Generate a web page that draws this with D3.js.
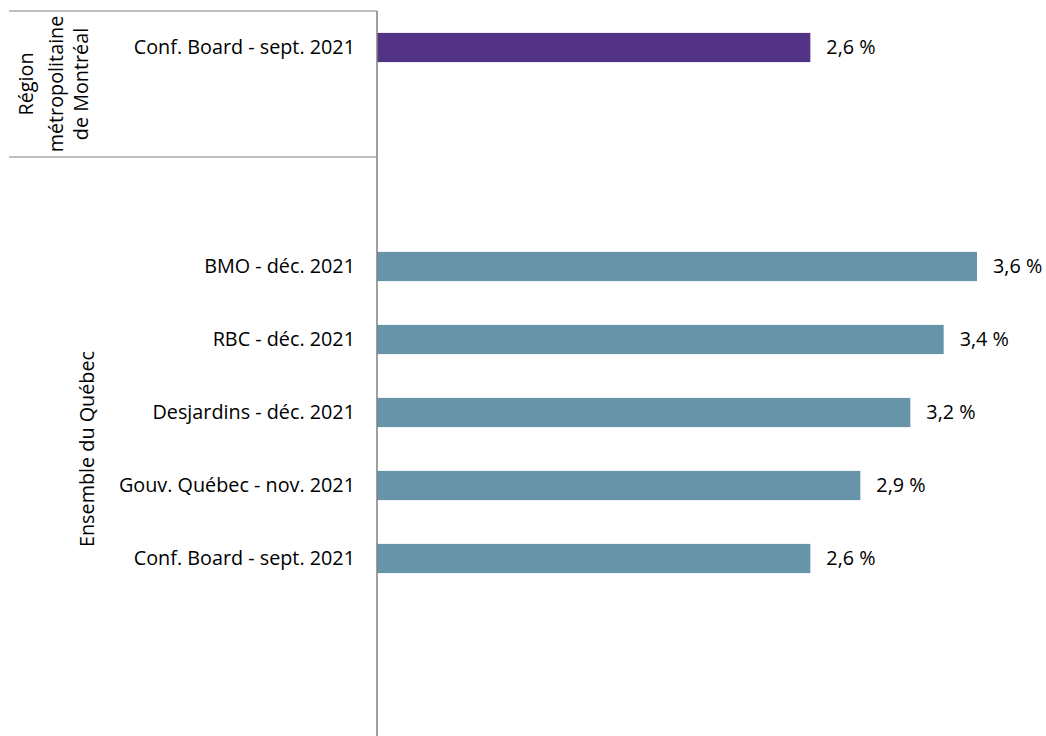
<!DOCTYPE html>
<html>
<head>
<meta charset="utf-8">
<script src="https://cdn.jsdelivr.net/npm/d3@7"></script>
<style>
  body { margin: 0; background: #fff; }
  text { font-family: "Open Sans", sans-serif; fill: #000; }
</style>
</head>
<body>
<script>
// data
const groupNames = [["Région", "métropolitaine", "de Montréal"], ["Ensemble du Québec"]];
const labels = ["Conf. Board - sept. 2021", "BMO - déc. 2021", "RBC - déc. 2021",
                "Desjardins - déc. 2021", "Gouv. Québec - nov. 2021", "Conf. Board - sept. 2021"];
const values = [2.6, 3.6, 3.4, 3.2, 2.9, 2.6];
const groupOf = [0, 1, 1, 1, 1, 1];
const colors = ["#523386", "#6794a8"];

// layout: 10 category slots, first group owns slots 0-1, second 2-9
const NUM_SLOTS = 10;
const slotOf = [0, 3, 4, 5, 6, 7];
const groupSlots = [[0, 2], [2, 10]];

const W = 1046, H = 736;
const axisX = 377, plotTop = 11, plotBottom = 741;
const FONT = '19.8px';

const svg = d3.select('body').append('svg')
    .attr('width', W)
    .attr('height', H);

const y = d3.scaleBand()
    .domain(d3.range(NUM_SLOTS))
    .range([plotTop, plotBottom])
    .paddingInner(0.6)
    .paddingOuter(0.3);

const x = d3.scaleLinear()
    .domain([0, 3.6])
    .range([axisX, 977]);

const step = y.step();
const slotTop = i => plotTop + i * step;

const fr = d3.formatLocale({ decimal: ",", thousands: " ", grouping: [3], currency: ["", "$"] });
const fmt = d => fr.format(".1f")(d) + " %";

const rows = values.map((v, i) => ({ label: labels[i], value: v, group: groupOf[i], slot: slotOf[i] }));

// bars
svg.selectAll('rect.bar').data(rows)
  .enter().append('rect')
    .attr('class', 'bar')
    .attr('x', axisX)
    .attr('y', d => y(d.slot))
    .attr('width', d => x(d.value) - axisX)
    .attr('height', y.bandwidth())
    .attr('fill', d => colors[d.group]);

// value labels
svg.selectAll('text.val').data(rows)
  .enter().append('text')
    .attr('class', 'val')
    .attr('x', d => x(d.value) + 16)
    .attr('y', d => y(d.slot) + y.bandwidth() / 2)
    .attr('dy', '0.35em')
    .style('font-size', FONT)
    .text(d => fmt(d.value));

// category labels
svg.selectAll('text.cat').data(rows)
  .enter().append('text')
    .attr('class', 'cat')
    .attr('x', axisX - 22)
    .attr('y', d => y(d.slot) + y.bandwidth() / 2)
    .attr('dy', '0.35em')
    .attr('text-anchor', 'end')
    .style('font-size', FONT)
    .text(d => d.label);

// group separators
const seps = [0, 2, 10];
svg.selectAll('line.sep').data(seps)
  .enter().append('line')
    .attr('class', 'sep')
    .attr('x1', 9).attr('x2', axisX)
    .attr('y1', d => slotTop(d)).attr('y2', d => slotTop(d))
    .attr('stroke', '#808080')
    .attr('stroke-width', 1.2);

// axis line
svg.append('line')
    .attr('x1', axisX).attr('x2', axisX)
    .attr('y1', plotTop).attr('y2', plotBottom)
    .attr('stroke', '#808080')
    .attr('stroke-width', 1.5);

// group labels
const groupX = [[26, 56, 81], [87]];
groupNames.forEach((lines, g) => {
  const cy = (slotTop(groupSlots[g][0]) + slotTop(groupSlots[g][1])) / 2;
  lines.forEach((t, k) => {
    svg.append('text')
      .attr('transform', `translate(${groupX[g][k]},${cy}) rotate(-90)`)
      .attr('text-anchor', 'middle')
      .attr('dy', '0.35em')
      .style('font-size', FONT)
      .text(t);
  });
});
</script>
</body>
</html>
